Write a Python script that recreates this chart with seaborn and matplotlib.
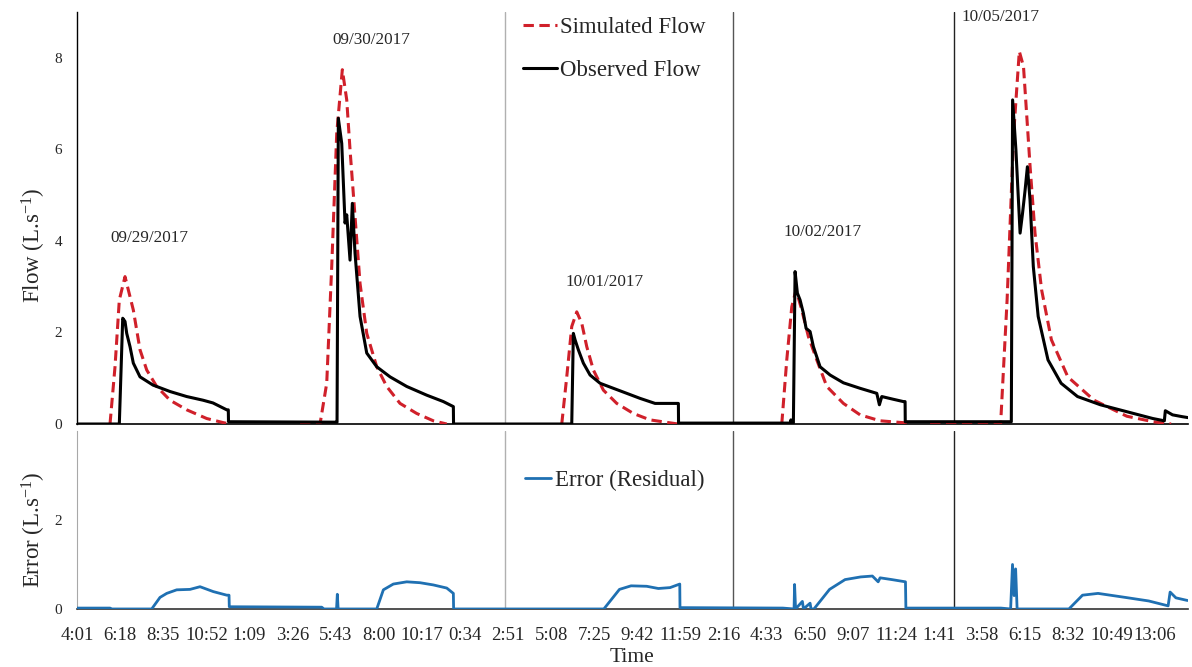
import numpy as np
import pandas as pd
import seaborn as sns
import matplotlib
matplotlib.use("Agg")
import matplotlib.pyplot as plt

# ---------------------------------------------------------------------------
# Data: record index (minutes of logged record), flows in L/s
# ---------------------------------------------------------------------------
tick_labels = ["4:01", "6:18", "8:35", "10:52", "1:09", "3:26", "5:43", "8:00",
               "10:17", "0:34", "2:51", "5:08", "7:25", "9:42", "11:59", "2:16",
               "4:33", "6:50", "9:07", "11:24", "1:41", "3:58", "6:15", "8:32",
               "10:49", "13:06"]
tick_step = 137
x_end = 3531

# observed flow
obs_t = [0, 134.5, 145.3, 152.6, 158.0, 168.5, 179.0, 200.3, 241.6, 295.6, 348.7,
         400.5, 432.3, 475.9, 480.9, 481.5, 825.5,
         826.5, 830.6, 841.4, 851.9, 857.3, 867.8, 875.1, 883.7, 899.6, 920.9,
         952.7, 995.0, 1048.0, 1111.6, 1164.4, 1196.2, 1196.8, 1572.5,
         1577.6, 1583.0, 1593.5, 1609.4, 1630.7, 1662.5, 1704.8, 1747.3, 1789.6,
         1837.3, 1911.4, 1911.9, 2266.4, 2269.0, 2272.0, 2276.9,
         2282.3, 2289.6, 2298.2, 2308.7, 2317.3, 2330.0, 2340.5, 2361.8, 2393.6,
         2435.9, 2488.9, 2542.0, 2550.3, 2557.9, 2594.8, 2626.6, 2632.0, 2632.5,
         2969.6, 2973.7, 2984.2, 2997.5, 3005.2, 3013.4, 3020.7, 3029.0, 3039.5,
         3055.0, 3086.2, 3127.9, 3180.0, 3252.8, 3336.1, 3419.4, 3456.0, 3459.1,
         3482.0, 3513.2, 3531.0]
obs_v = [0, 0, 2.31, 2.24, 1.98, 1.69, 1.33, 1.03, 0.85, 0.71, 0.60,
         0.52, 0.46, 0.31, 0.31, 0.05, 0.04,
         0.04, 6.68, 6.13, 4.39, 4.57, 3.58, 4.82, 3.73, 2.35, 1.55,
         1.25, 1.03, 0.82, 0.63, 0.49, 0.38, 0.0, 0.0,
         1.98, 1.84, 1.62, 1.33, 1.07, 0.89, 0.78, 0.67, 0.56,
         0.45, 0.45, 0.02, 0.02, 0.09, 0.02, 0.02,
         3.33, 2.86, 2.71, 2.42, 2.09, 2.02, 1.69, 1.25, 1.07,
         0.90, 0.78, 0.67, 0.42, 0.60, 0.54, 0.49, 0.49, 0.05,
         0.05, 7.08, 5.99, 4.17, 4.60, 5.11, 5.62, 4.90, 3.44,
         2.35, 1.40, 0.89, 0.60, 0.42, 0.27, 0.12, 0.07, 0.29,
         0.20, 0.16, 0.14]

# simulated flow, one run per event
sim_e1_t = [104.9, 120.8, 134.5, 152.6, 179.0, 200.3, 221.6, 253.3, 295.6, 348.7, 412.3, 465.0, 486.3]
sim_e1_v = [0, 1.25, 2.71, 3.22, 2.49, 1.62, 1.18, 0.82, 0.52, 0.31, 0.12, 0.03, 0]
sim_e2_t = [708.9, 772.4, 793.7, 809.6, 825.5, 843.3, 857.3, 867.8, 883.7, 899.6, 920.9,
            952.7, 984.4, 1026.7, 1079.8, 1132.6, 1175.2]
sim_e2_v = [0, 0, 0.89, 3.44, 6.35, 7.74, 7.08, 5.99, 4.53, 3.07, 1.98,
            1.25, 0.82, 0.45, 0.23, 0.07, 0]
sim_e3_t = [1540.7, 1556.6, 1572.5, 1588.4, 1604.3, 1620.2, 1641.2, 1673.0, 1715.6,
            1768.3, 1821.4, 1890.4, 1910.4]
sim_e3_v = [0, 1.03, 2.13, 2.45, 2.20, 1.69, 1.18, 0.74, 0.45, 0.23, 0.09, 0.02, 0]
sim_e4_t = [2240.0, 2255.9, 2271.8, 2285.5, 2303.6, 2324.6, 2351.3, 2383.1, 2435.9,
            2488.9, 2552.5, 2625.6, 2647.9]
sim_e4_v = [0, 1.40, 2.56, 2.93, 2.49, 1.91, 1.40, 0.82, 0.45, 0.20, 0.07, 0.03, 0]
sim_e5_t = [2711.4, 2935.6, 2956.2, 2977.2, 2995.0, 3008.3, 3018.8, 3029.3, 3044.9,
            3065.9, 3097.0, 3149.2, 3232.5, 3336.7, 3420.3, 3477.5]
sim_e5_v = [0, 0, 2.71, 6.35, 8.14, 7.81, 6.72, 5.62, 4.17, 2.93, 1.84, 1.03,
            0.52, 0.17, 0.05, 0]

# residual error
err_t = [0, 104.9, 111.0, 237.4, 263.8, 285.1, 316.9, 359.2, 391.0, 433.3, 475.9,
         483.2, 484.0, 777.8, 785.0, 824.9, 827.4, 830.0,
         952.7, 973.7, 1005.4, 1048.0, 1090.3, 1132.6, 1175.2, 1196.2, 1197.0,
         1674.5, 1724.1, 1761.0, 1810.6, 1847.8, 1885.0, 1915.8, 1916.5,
         2243.5, 2279.1, 2280.7, 2283.9, 2305.5, 2309.0, 2330.0, 2333.0,
         2342.3, 2391.9, 2441.2, 2490.8, 2528.0, 2546.4, 2552.5, 2590.0, 2633.2,
         2634.5, 2936.2, 2967.4, 2973.4, 2978.5, 2983.3, 2988.0,
         3152.7, 3195.9, 3245.2, 3331.6, 3406.3, 3468.0, 3474.3, 3492.7, 3529.9]
err_v = [0.02, 0.02, 0, 0, 0.26, 0.35, 0.43, 0.44, 0.50, 0.39, 0.31,
         0.31, 0.05, 0.04, 0, 0, 0.33, 0,
         0, 0.43, 0.56, 0.61, 0.59, 0.54, 0.47, 0.35, 0,
         0, 0.44, 0.52, 0.51, 0.46, 0.48, 0.56, 0.03,
         0.02, 0, 0.55, 0, 0.17, 0, 0.13, 0,
         0, 0.44, 0.66, 0.72, 0.74, 0.61, 0.70, 0.66, 0.61,
         0.02, 0.02, 0, 1.0, 0.3, 0.9, 0,
         0, 0.31, 0.35, 0.26, 0.18, 0.07, 0.38, 0.25, 0.19]

# event dates and day separators
event_dates = ["09/29/2017", "09/30/2017", "10/01/2017", "10/02/2017", "10/05/2017"]
date_x = [229, 934, 1676, 2371, 2934]
date_y = [4.07, 8.39, 3.11, 4.20, 8.90]
separators = [1360, 2085, 2788]
separator_colors = ["#b0b0b0", "#555555", "#222222"]

# ---------------------------------------------------------------------------
sns.set_style("white")
plt.rcParams["font.family"] = ["Liberation Serif", "DejaVu Serif"]
plt.rcParams["mathtext.fontset"] = "custom"
plt.rcParams["mathtext.rm"] = "Liberation Serif"
plt.rcParams["mathtext.it"] = "Liberation Serif:italic"

RED = "#d0202a"
BLUE = "#1f70b2"

fig = plt.figure(figsize=(11.92, 6.67), dpi=100)
ax = fig.add_axes([0.0646, 0.3643, 0.9320, 0.6177])
ax_e = fig.add_axes([0.0646, 0.0870, 0.9320, 0.2669])

sim_runs = [(sim_e1_t, sim_e1_v), (sim_e2_t, sim_e2_v), (sim_e3_t, sim_e3_v),
            (sim_e4_t, sim_e4_v), (sim_e5_t, sim_e5_v)]
sim_df = pd.concat([pd.DataFrame({"t": t, "v": v, "event": i})
                    for i, (t, v) in enumerate(sim_runs)], ignore_index=True)
obs_df = pd.DataFrame({"t": obs_t, "v": obs_v})
err_df = pd.DataFrame({"t": err_t, "v": err_v})

for xs, c in zip(separators, separator_colors):
    ax.axvline(xs, color=c, lw=1.0, zorder=1)
    ax_e.axvline(xs, color=c, lw=1.0, zorder=1)

sns.lineplot(data=sim_df, x="t", y="v", units="event", estimator=None, sort=False,
             color=RED, lw=2.2, linestyle=(0, (3.4, 1.8)), ax=ax, zorder=3)
sns.lineplot(data=obs_df, x="t", y="v", estimator=None, sort=False,
             color="black", lw=2.2, ax=ax, zorder=4)
sns.lineplot(data=err_df, x="t", y="v", estimator=None, sort=False,
             color=BLUE, lw=2.0, ax=ax_e, zorder=3)

# legends
h_sim, = ax.plot([], [], color=RED, lw=2.2, linestyle=(0, (3.4, 1.8)))
h_obs, = ax.plot([], [], color="black", lw=2.2)
ax.legend([h_sim, h_obs], ["Simulated Flow", "Observed Flow"],
          loc="upper left", bbox_to_anchor=(0.389, 1.021), frameon=False,
          fontsize=16.5, handlelength=1.5, handletextpad=0.1,
          labelspacing=0.95, borderaxespad=0.2)
h_err, = ax_e.plot([], [], color=BLUE, lw=2.0)
ax_e.legend([h_err], ["Error (Residual)"], loc="upper left",
            bbox_to_anchor=(0.391, 0.858), frameon=False, fontsize=16.5,
            handlelength=1.15, handletextpad=0.15, borderaxespad=0.2)

for lbl, xd, yd in zip(event_dates, date_x, date_y):
    ax.text(xd, yd, lbl, ha="center", va="center", fontsize=12.3)

# axes styling
ticks = np.arange(len(tick_labels)) * tick_step
for a in (ax, ax_e):
    a.set_xlim(0, x_end)
    a.set_xticks(ticks)
    sns.despine(ax=a, top=True, right=True)
    a.set_xlabel("")
    a.set_ylabel("")
    a.grid(False)

ax.set_ylim(0, 9)
ax.set_yticks([0, 2, 4, 6, 8])
ax.set_xticklabels([])
ax.tick_params(axis="x", length=0)
ax.tick_params(axis="y", length=3.6, width=0.8, color="black", pad=7, labelsize=11)
ax.spines["left"].set_color("black")
ax.spines["bottom"].set_color("black")
ax.spines["left"].set_linewidth(1.0)
ax.spines["bottom"].set_linewidth(1.2)

ax_e.set_ylim(0, 4)
ax_e.set_yticks([0, 2])
ax_e.set_xticklabels(tick_labels)
ax_e.tick_params(axis="x", length=0, pad=13, labelsize=13.5)
ax_e.tick_params(axis="y", length=0, pad=11, labelsize=11)
ax_e.spines["left"].set_color("#a8a8a8")
ax_e.spines["bottom"].set_color("#333333")
ax_e.spines["bottom"].set_linewidth(1.2)

ax.set_ylabel(r"Flow (L.s$^{\mathregular{-1}}$)", fontsize=16.5)
ax.yaxis.set_label_coords(-0.026, 0.434)
ax_e.set_ylabel(r"Error (L.s$^{\mathregular{-1}}$)", fontsize=16.5)
ax_e.yaxis.set_label_coords(-0.026, 0.444)
ax_e.set_xlabel("Time", fontsize=15.5, labelpad=3)

fig.savefig("out.png", dpi=100, facecolor="white")
